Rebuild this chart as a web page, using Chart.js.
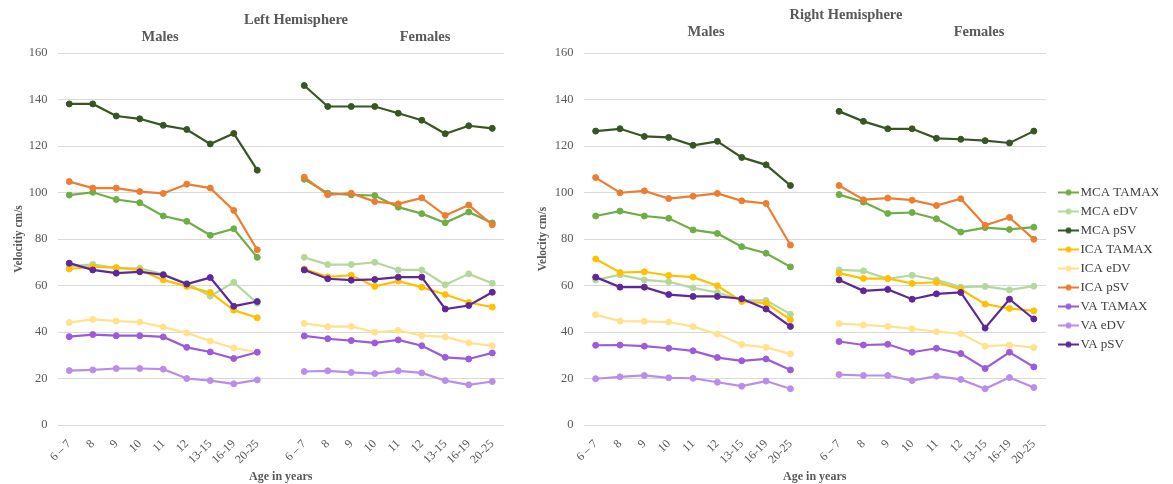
<!DOCTYPE html>
<html>
<head>
<meta charset="utf-8">
<script src="https://cdn.jsdelivr.net/npm/chart.js@4/dist/chart.umd.min.js"></script>
<style>
  body { margin: 0; background: #fff; }
  #wrap { position: relative; width: 1173px; height: 484px; }
  #leftChart { position: absolute; left: 0; top: 0; }
  #rightChart { position: absolute; left: 530px; top: 0; }
</style>
</head>
<body>
<div id="wrap">
  <canvas id="leftChart" width="530" height="484"></canvas>
  <canvas id="rightChart" width="643" height="484"></canvas>
</div>
<script>
// age groups, shown once for males and once for females with an empty slot between
const ages = ['6 – 7', '8', '9', '10', '11', '12', '13-15', '16-19', '20-25'];
const seriesNames = ['MCA TAMAX', 'MCA eDV', 'MCA pSV', 'ICA TAMAX', 'ICA eDV', 'ICA pSV', 'VA TAMAX', 'VA eDV', 'VA pSV'];
const seriesColors = ['#70AD47', '#B4D89C', '#375623', '#FFC000', '#FFE28A', '#ED7D31', '#9C5BDB', '#BB8DEA', '#5F2799'];

// rows follow seriesNames, columns follow ages (cm/s)
const leftMales = [
  [98.9, 100.1, 97.0, 95.6, 89.9, 87.6, 81.6, 84.4, 72.1],
  [68.2, 69.1, 67.5, 67.4, 64.8, 61.0, 55.4, 61.4, 52.4],
  [138.1, 138.1, 132.9, 131.7, 128.9, 127.1, 120.9, 125.4, 109.6],
  [67.1, 68.1, 67.7, 66.7, 62.4, 59.6, 57.0, 49.4, 46.1],
  [44.1, 45.4, 44.7, 44.3, 42.1, 39.6, 36.1, 33.1, 31.4],
  [104.7, 101.9, 101.9, 100.4, 99.6, 103.6, 101.9, 92.3, 75.4],
  [38.0, 38.9, 38.4, 38.4, 37.9, 33.4, 31.4, 28.6, 31.3],
  [23.4, 23.7, 24.3, 24.3, 24.0, 20.0, 19.1, 17.7, 19.4],
  [69.6, 66.7, 65.3, 65.9, 64.6, 60.6, 63.4, 51.1, 53.1]
];
const leftFemales = [
  [105.7, 99.7, 99.0, 98.7, 93.7, 90.9, 87.0, 91.6, 86.9],
  [72.1, 69.0, 69.0, 70.0, 66.7, 66.7, 60.3, 65.0, 61.0],
  [146.0, 137.0, 137.0, 137.0, 134.1, 131.1, 125.3, 128.7, 127.6],
  [67.1, 63.7, 64.4, 59.6, 61.9, 59.3, 56.1, 52.7, 50.7],
  [43.7, 42.3, 42.4, 39.9, 40.7, 38.4, 37.9, 35.3, 34.1],
  [106.6, 99.0, 99.7, 96.1, 95.1, 97.7, 90.1, 94.6, 86.1],
  [38.3, 37.1, 36.3, 35.3, 36.6, 34.1, 29.1, 28.4, 31.0],
  [23.0, 23.3, 22.6, 22.1, 23.3, 22.4, 19.1, 17.3, 18.7],
  [66.7, 62.9, 62.3, 62.6, 63.6, 63.6, 49.9, 51.4, 57.1]
];
const rightMales = [
  [89.9, 92.0, 89.9, 88.9, 83.9, 82.4, 76.7, 73.9, 68.0],
  [62.4, 64.6, 62.4, 61.6, 59.0, 57.0, 53.7, 53.6, 47.7],
  [126.4, 127.4, 124.1, 123.7, 120.3, 122.0, 115.1, 111.9, 103.0],
  [71.4, 65.6, 65.9, 64.3, 63.6, 59.9, 53.1, 52.4, 45.3],
  [47.4, 44.7, 44.6, 44.3, 42.3, 39.1, 34.6, 33.4, 30.6],
  [106.4, 99.9, 100.7, 97.4, 98.4, 99.6, 96.4, 95.3, 77.4],
  [34.3, 34.4, 33.9, 33.0, 31.9, 29.0, 27.6, 28.4, 23.7],
  [19.9, 20.7, 21.3, 20.3, 20.1, 18.4, 16.7, 18.9, 15.6],
  [63.6, 59.3, 59.3, 56.1, 55.3, 55.3, 54.3, 49.9, 42.4]
];
const rightFemales = [
  [99.1, 95.9, 91.0, 91.4, 88.7, 83.0, 84.9, 84.1, 85.1],
  [66.7, 66.3, 62.9, 64.4, 62.4, 59.3, 59.6, 58.1, 59.7],
  [134.9, 130.6, 127.4, 127.4, 123.3, 122.9, 122.3, 121.3, 126.4],
  [65.3, 63.0, 63.0, 60.9, 61.4, 58.4, 52.0, 50.1, 49.1],
  [43.6, 43.0, 42.4, 41.4, 40.1, 39.3, 33.9, 34.4, 33.3],
  [103.0, 96.9, 97.6, 96.7, 94.4, 97.3, 85.9, 89.3, 79.9],
  [35.9, 34.4, 34.7, 31.3, 33.0, 30.7, 24.3, 31.3, 25.0],
  [21.7, 21.3, 21.3, 19.1, 21.0, 19.6, 15.6, 20.4, 16.1],
  [62.4, 57.7, 58.3, 54.1, 56.4, 57.0, 41.7, 54.1, 45.6]
];

const FONT = '"Liberation Serif", "Times New Roman", serif';
const labels = [...ages, '', ...ages];

// legend marker: short line with a dot, like the office style legend
function legendMarker(color) {
  const c = document.createElement('canvas');
  c.width = 32; c.height = 10;
  const g = c.getContext('2d');
  g.strokeStyle = color; g.lineWidth = 2;
  g.beginPath(); g.moveTo(11, 5); g.lineTo(32, 5); g.stroke();
  g.fillStyle = color;
  g.beginPath(); g.arc(21.5, 5, 3, 0, Math.PI * 2); g.fill();
  return c;
}
const markers = seriesColors.map(legendMarker);

function buildDatasets(males, females) {
  return seriesNames.map((name, i) => ({
    label: name,
    data: [...males[i], null, ...females[i]],
    borderColor: seriesColors[i],
    backgroundColor: seriesColors[i],
    pointBackgroundColor: seriesColors[i],
    pointBorderColor: seriesColors[i],
    borderWidth: 2.2,
    pointRadius: 3,
    pointBorderWidth: 1,
    tension: 0,
    spanGaps: false,
    order: seriesNames.length - 1 - i // later series on top
  }));
}

// draws the hemisphere and sex headings at fixed spots
const headingPlugin = {
  id: 'headings',
  afterDraw(chart, args, opts) {
    const ctx = chart.ctx;
    ctx.save();
    ctx.fillStyle = '#595959';
    ctx.font = 'bold 14.5px ' + FONT;
    ctx.textAlign = 'center';
    ctx.textBaseline = 'middle';
    (opts.items || []).forEach(t => ctx.fillText(t.text, t.x, t.y));
    ctx.restore();
  }
};

function makeOptions(cfg) {
  return {
    responsive: false,
    animation: false,
    layout: { padding: { top: 53, right: cfg.padRight, left: 0, bottom: 0 } },
    scales: {
      x: {
        offset: true,
        grid: { display: false },
        border: { display: false },
        ticks: {
          autoSkip: false, maxRotation: 45, minRotation: 45, padding: 4,
          color: '#595959', font: { family: FONT, size: 12 }
        },
        title: {
          display: true, text: 'Age in years', color: '#595959',
          font: { family: FONT, size: 12, weight: 'bold' },
          padding: { top: 0, bottom: 0 }
        },
        afterFit: s => { s.height = 59; }
      },
      y: {
        min: 0, max: 160,
        grid: { color: '#D9D9D9', lineWidth: 1, drawTicks: false },
        border: { display: false },
        ticks: { stepSize: 20, padding: 10, color: '#595959', font: { family: FONT, size: 12.5 } },
        title: {
          display: true, text: cfg.yTitle, color: '#595959',
          font: { family: FONT, size: 11.5, weight: 'bold' },
          padding: { top: cfg.yTitlePad, bottom: 0 }
        },
        afterFit: s => { s.width = cfg.yWidth; }
      }
    },
    plugins: {
      tooltip: { enabled: false },
      headings: { items: cfg.headings },
      legend: cfg.legend
    }
  };
}

new Chart(document.getElementById('leftChart'), {
  type: 'line',
  data: { labels, datasets: buildDatasets(leftMales, leftFemales) },
  options: makeOptions({
    padRight: 26, yWidth: 57.5, yTitlePad: 12, yTitle: 'Velocitiy cm/s',
    headings: [
      { text: 'Left Hemisphere', x: 296, y: 20 },
      { text: 'Males', x: 160, y: 37 },
      { text: 'Females', x: 425, y: 37 }
    ],
    legend: { display: false }
  }),
  plugins: [headingPlugin]
});

new Chart(document.getElementById('rightChart'), {
  type: 'line',
  data: { labels, datasets: buildDatasets(rightMales, rightFemales) },
  options: makeOptions({
    padRight: 15, yWidth: 53.5, yTitlePad: 6, yTitle: 'Velocity cm/s',
    headings: [
      { text: 'Right Hemisphere', x: 316, y: 15.5 },
      { text: 'Males', x: 176, y: 32 },
      { text: 'Females', x: 449, y: 32 }
    ],
    legend: {
      display: true,
      position: 'right',
      align: 'center',
      maxWidth: 112,
      labels: {
        usePointStyle: true,
        pointStyleWidth: 22,
        boxHeight: 10,
        padding: 6,
        color: '#404040',
        font: { family: FONT, size: 13, lineHeight: 1 },
        generateLabels: chart => chart.data.datasets.map((ds, i) => ({
          text: ds.label,
          pointStyle: markers[i],
          fillStyle: ds.borderColor,
          strokeStyle: ds.borderColor,
          fontColor: '#404040',
          lineWidth: 0,
          hidden: false,
          datasetIndex: i
        }))
      }
    }
  }),
  plugins: [headingPlugin]
});
</script>
</body>
</html>
